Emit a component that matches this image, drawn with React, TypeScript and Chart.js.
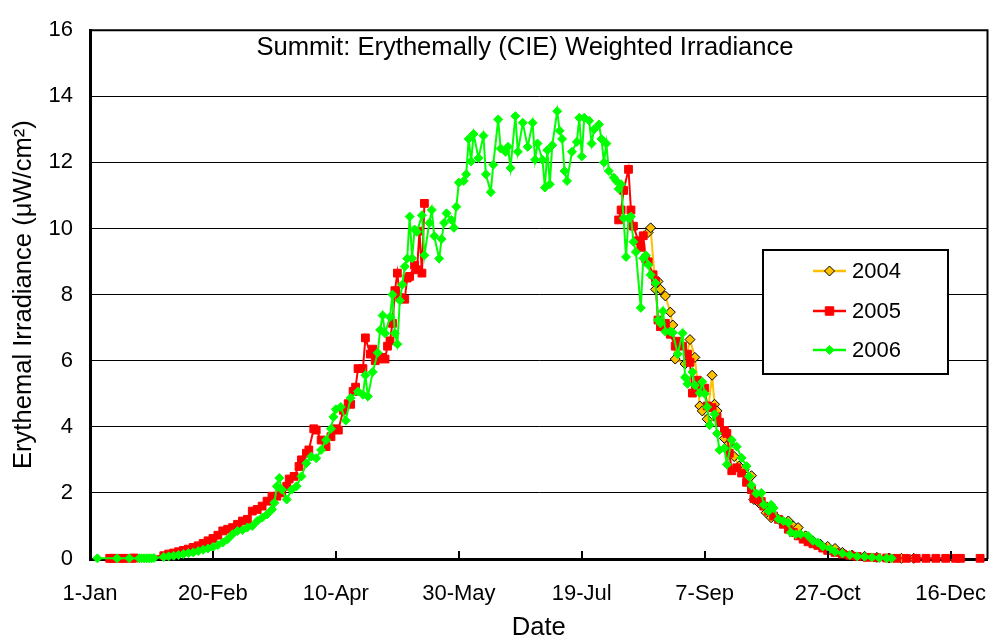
import React, { useEffect, useRef } from 'react';
import { Chart, registerables } from 'chart.js';

Chart.register(...registerables);

const FONT = '"Liberation Sans", Arial, Helvetica, sans-serif';

const chartTitle = 'Summit: Erythemally (CIE) Weighted Irradiance';
const xAxisTitle = 'Date';
const yAxisTitle = 'Erythemal Irradiance (μW/cm²)';

const tickDays = [0, 50, 100, 150, 200, 250, 300, 350];
const tickLabels = ['1-Jan', '20-Feb', '10-Apr', '30-May', '19-Jul', '7-Sep', '27-Oct', '16-Dec'];
const yTickValues = [0, 2, 4, 6, 8, 10, 12, 14, 16];

const seriesNames = ['2004', '2005', '2006'];

// 2006 (green)
const days2006 = [
  3, 11, 16, 20, 21, 22, 23, 24, 25, 26,
  30, 32, 34, 36, 38, 40, 42, 44, 46, 48,
  50, 52, 54, 56, 58, 60, 62, 64, 66, 68,
  70, 72, 74, 75, 76, 77, 78, 80, 82, 84,
  86, 88, 90, 92, 94, 96, 98, 99, 100, 102,
  104, 106, 109, 111, 112, 113, 115, 117, 118, 119,
  120, 122, 123, 124, 125, 126, 127, 128, 129, 130,
  131, 132, 133, 135, 136, 138, 139, 140, 142, 143,
  144, 145, 147, 148, 149, 150, 152, 153, 154, 155,
  156, 158, 160, 161, 163, 164, 166, 167, 169, 170,
  171, 173, 174, 176, 178, 180, 181, 182, 184, 185,
  186, 187, 188, 190, 191, 192, 193, 194, 196, 198,
  199, 200, 201, 203, 204, 205, 207, 208, 209, 210,
  211, 213, 214, 215, 216, 217, 218, 219, 220, 221,
  222, 224, 225, 226, 227, 228, 230, 231, 232, 233,
  234, 236, 237, 239, 241, 242, 243, 245, 246, 248,
  249, 250, 251, 252, 254, 255, 256, 258, 259, 261,
  263, 265, 267, 268, 269, 271, 273, 274, 276, 277,
  278, 280, 282, 284, 285, 287, 289, 292, 294, 296,
  298, 301, 303, 306, 309, 312, 315, 318, 321, 324,
  326,
];
const vals2006 = [
  0.02, 0.02, 0.02, 0.02, 0.02, 0.02, 0.02, 0.02, 0.02, 0.03,
  0.06, 0.08, 0.1, 0.12, 0.15, 0.18, 0.2, 0.24, 0.28, 0.32,
  0.36, 0.42, 0.5, 0.6, 0.75, 0.85, 0.88, 0.95, 1.0, 1.15,
  1.25, 1.35, 1.5, 1.7, 2.2, 2.45, 2.1, 1.8, 2.1, 2.2,
  2.5, 2.9, 3.1, 3.05, 3.3, 3.6, 3.94, 4.3, 4.53, 4.6,
  4.19, 4.87, 5.07, 4.97, 5.56, 4.92, 5.66, 6.24, 6.93, 7.37,
  6.83, 7.32, 8.0, 6.83, 6.5, 7.82, 8.3, 8.85, 9.09, 10.36,
  9.1, 9.97, 9.9, 10.4, 9.19, 10.17, 10.56, 9.77, 9.09, 9.68,
  10.17, 10.46, 10.26, 10.02, 10.66, 11.39, 11.44, 11.64, 12.71, 12.03,
  12.86, 12.13, 12.81, 11.64, 11.1, 11.93, 13.3, 12.42, 12.32, 12.47,
  11.83, 13.4, 12.32, 13.2, 12.47, 13.2, 12.08, 12.57, 12.08, 11.24,
  12.37, 11.34, 12.52, 13.55, 12.96, 12.71, 11.74, 11.44, 12.32, 12.62,
  13.35, 12.18, 13.35, 13.26, 12.57, 13.0, 13.15, 12.71, 12.0, 12.57,
  11.74, 11.54, 11.44, 11.2, 11.34, 10.31, 9.14, 10.31, 10.36, 9.6,
  9.29, 7.6, 9.1, 9.19, 8.9, 8.6, 8.35, 7.23, 7.13, 7.5,
  6.88, 6.88, 6.85, 6.2, 6.83, 5.5, 5.3, 5.66, 5.26, 5.02,
  5.36, 5.0, 4.6, 4.05, 4.38, 3.8, 3.3, 3.35, 2.86, 3.6,
  3.4, 3.06, 2.81, 2.5, 2.23, 1.98, 2.0, 1.64, 1.45, 1.64,
  1.54, 1.2, 1.15, 1.1, 0.8, 0.75, 0.75, 0.7, 0.55, 0.5,
  0.38, 0.3, 0.22, 0.17, 0.12, 0.08, 0.07, 0.05, 0.03, 0.02,
  0.02,
];

// 2005 (red) - null marks a break in the line
const days2005 = [
  8, 9, 10, 13, 14, 17, 18, 30, 32, 34,
  36, 38, 40, 42, 44, 46, 48, 50, 52, 54,
  56, 58, 60, 62, 64, 66, 68, 70, 72, 74,
  76, 78, 80, 81, 83, 85, 86, 88, 89, 91,
  92, 94, 96, 98, 100, 101, 103, 105, 106, 107,
  108, 109, 111, 112, 114, 115, 116, 117, 119, 120,
  121, 122, 123, 124, 125, 126, 128, 129, 130, 132,
  133, 134, 135, 136, 176, 215, 216, 217, 219, 220,
  221, 223, 224, 225, 226, 227, 229, 230, 231, 232,
  234, 236, 238, 239, 241, 243, 244, 245, 247, 248,
  250, 251, 253, 255, 256, 258, 259, 260, 261, 263,
  265, 267, 269, 270, 272, 273, 274, 276, 278, 280,
  282, 284, 286, 288, 290, 292, 294, 296, 298, 300,
  303, 306, 309, 312, 316, 320, 324, 328, 332, 336,
  340, 344, 348, 352, 354, 358, 362,
];
const vals2005 = [
  0.02, 0.02, 0.02, 0.02, 0.02, 0.02, 0.03, 0.1, 0.15, 0.18,
  0.22, 0.26, 0.3, 0.35, 0.4, 0.47, 0.55, 0.62, 0.72, 0.85,
  0.9, 0.95, 1.05, 1.15, 1.2, 1.45, 1.5, 1.6, 1.75, 1.9,
  1.9, 2.0, 2.2, 2.42, 2.5, 2.8, 3.0, 3.2, 3.3, 3.94,
  3.9, 3.6, 3.4, 3.7, 3.94, 3.9, 4.5, 4.7, 4.68, 5.07,
  5.2, 5.76, 5.76, 6.69, 6.2, 6.35, 6.0, 6.05, 6.1, 6.05,
  6.44, 6.6, 7.13, 8.12, 8.65, 7.91, 7.86, 8.5, 8.55, 8.89,
  8.75, 9.92, 8.65, 10.76, null, 10.26, 10.56, 11.15, 11.79, 10.56,
  10.07, 9.63, 9.43, 9.78, 9.09, 8.99, 8.6, 8.4, 7.23, 7.03,
  7.13, 6.8, 6.44, 6.59, 6.44, 6.2, 5.95, 5.02, 5.41, 5.2,
  5.17, 4.63, 4.58, 4.3, 4.14, 3.89, 3.8, 3.2, 2.67, 2.76,
  2.6, 2.32, 2.1, 1.83, 1.8, 1.74, 1.6, 1.45, 1.3, 1.2,
  1.05, 0.9, 0.8, 0.7, 0.6, 0.52, 0.46, 0.41, 0.33, 0.26,
  0.2, 0.15, 0.11, 0.08, 0.05, 0.04, 0.03, 0.02, 0.02, 0.02,
  0.02, 0.02, 0.02, 0.02, 0.02, null, 0.02,
];

// 2004 (gold)
const days2004 = [
  227, 228, 230, 231, 232, 234, 236, 237, 238, 242,
  244, 246, 248, 249, 251, 253, 254, 255, 258, 260,
  262, 264, 266, 269, 270, 272, 275, 277, 280, 282,
  284, 286, 288, 291, 294, 297, 300, 303, 306, 310,
  315, 320, 325, 330, 335,
];
const vals2004 = [
  9.88, 10.02, 8.16, 8.4, 8.16, 7.96, 7.47, 7.08, 6.05, 5.9,
  6.64, 6.1, 4.63, 4.48, 4.23, 5.56, 4.68, 4.48, 3.65, 3.5,
  3.1, 2.81, 2.7, 2.52, 1.8, 1.7, 1.4, 1.25, 1.2, 1.1,
  1.15, 1.0, 0.95, 0.7, 0.55, 0.45, 0.38, 0.32, 0.2, 0.12,
  0.08, 0.05, 0.03, 0.02, 0.02,
];

const GREEN = '#00FF00';
const RED = '#FF0000';
const GOLD = '#FFC000';

const TICK_SIZE = 22;
const TITLE_SIZE = 25.6;

function toPoints(days: number[], vals: (number | null)[]) {
  return days.map((d, i) => ({ x: d, y: vals[i] }));
}

function drawMarker(ctx: CanvasRenderingContext2D, style: string, x: number, y: number, r: number, fill: string, stroke: string) {
  ctx.beginPath();
  if (style === 'rect') {
    const s = r * Math.SQRT1_2;
    ctx.rect(x - s, y - s, 2 * s, 2 * s);
  } else {
    ctx.moveTo(x, y - r);
    ctx.lineTo(x + r, y);
    ctx.lineTo(x, y + r);
    ctx.lineTo(x - r, y);
    ctx.closePath();
  }
  ctx.fillStyle = fill;
  ctx.fill();
  ctx.lineWidth = 1;
  ctx.strokeStyle = stroke;
  ctx.stroke();
}

const decorPlugin = {
  id: 'decor',
  afterDraw(chart: any) {
    const { ctx, chartArea } = chart;
    const xs = chart.scales.x;
    ctx.save();
    // frame (top and right)
    ctx.strokeStyle = '#000';
    ctx.lineWidth = 2;
    ctx.beginPath();
    ctx.moveTo(chartArea.left, chartArea.top);
    ctx.lineTo(chartArea.right, chartArea.top);
    ctx.lineTo(chartArea.right, chartArea.bottom);
    ctx.stroke();
    // inside tick marks on x axis
    ctx.lineWidth = 2;
    tickDays.forEach((d) => {
      const px = Math.round(xs.getPixelForValue(d));
      ctx.beginPath();
      ctx.moveTo(px, chartArea.bottom);
      ctx.lineTo(px, chartArea.bottom - 8);
      ctx.stroke();
    });
    // title inside plot
    ctx.fillStyle = '#000';
    ctx.font = `${TITLE_SIZE}px ${FONT}`;
    ctx.textAlign = 'center';
    ctx.textBaseline = 'middle';
    ctx.fillText(chartTitle, 525, 48);
    // legend
    const bx = 763, by = 250, bw = 185, bh = 124;
    ctx.fillStyle = '#fff';
    ctx.fillRect(bx, by, bw, bh);
    ctx.lineWidth = 2;
    ctx.strokeStyle = '#000';
    ctx.strokeRect(bx, by, bw, bh);
    const items = [
      { name: seriesNames[0], color: GOLD, fill: GOLD, stroke: '#000', style: 'rectRot', r: 5, y: 271 },
      { name: seriesNames[1], color: RED, fill: RED, stroke: RED, style: 'rect', r: 6, y: 311 },
      { name: seriesNames[2], color: GREEN, fill: GREEN, stroke: GREEN, style: 'rectRot', r: 4.5, y: 350 },
    ];
    items.forEach((it) => {
      ctx.strokeStyle = it.color;
      ctx.lineWidth = 2.5;
      ctx.beginPath();
      ctx.moveTo(813, it.y);
      ctx.lineTo(846, it.y);
      ctx.stroke();
      drawMarker(ctx, it.style, 829.5, it.y, it.r, it.fill, it.stroke);
      ctx.fillStyle = '#000';
      ctx.font = `${TICK_SIZE}px ${FONT}`;
      ctx.textAlign = 'left';
      ctx.textBaseline = 'middle';
      ctx.fillText(it.name, 852, it.y + 1);
    });
    ctx.restore();
  },
};

export default function App() {
  const canvasRef = useRef<HTMLCanvasElement | null>(null);

  useEffect(() => {
    const canvas = canvasRef.current;
    if (!canvas) return;
    const chart = new Chart(canvas, {
      type: 'line',
      data: {
        datasets: [
          {
            label: seriesNames[2],
            data: toPoints(days2006, vals2006),
            borderColor: GREEN,
            backgroundColor: GREEN,
            pointBackgroundColor: GREEN,
            pointBorderColor: GREEN,
            pointStyle: 'rectRot',
            pointRadius: 4.5,
            pointBorderWidth: 1,
            borderWidth: 2,
            tension: 0,
            order: 1,
            clip: false,
            spanGaps: false,
          },
          {
            label: seriesNames[1],
            data: toPoints(days2005, vals2005),
            borderColor: RED,
            backgroundColor: RED,
            pointBackgroundColor: RED,
            pointBorderColor: RED,
            pointStyle: 'rect',
            pointRadius: 5.5,
            pointBorderWidth: 1,
            borderWidth: 2,
            tension: 0,
            order: 2,
            clip: false,
            spanGaps: false,
          },
          {
            label: seriesNames[0],
            data: toPoints(days2004, vals2004),
            borderColor: GOLD,
            backgroundColor: GOLD,
            pointBackgroundColor: GOLD,
            pointBorderColor: '#000',
            pointStyle: 'rectRot',
            pointRadius: 5,
            pointBorderWidth: 1,
            borderWidth: 2,
            tension: 0,
            order: 3,
            clip: false,
            spanGaps: false,
          },
        ] as any,
      },
      options: {
        animation: false,
        responsive: false,
        maintainAspectRatio: false,
        devicePixelRatio: 1,
        layout: { padding: { top: 15, right: 5, left: 0, bottom: 0 } },
        plugins: {
          legend: { display: false },
          tooltip: { enabled: false },
        },
        scales: {
          x: {
            type: 'linear',
            min: 0,
            max: 365,
            afterBuildTicks: (s: any) => {
              s.ticks = tickDays.map((v) => ({ value: v }));
            },
            afterFit: (s: any) => {
              s.height = 84;
              s.paddingLeft = 0;
              s.paddingRight = 0;
            },
            grid: { display: false, drawTicks: false },
            border: { display: true, color: '#000', width: 3 },
            ticks: {
              autoSkip: false,
              maxRotation: 0,
              minRotation: 0,
              padding: 22,
              color: '#000',
              font: { family: FONT, size: TICK_SIZE },
              callback: (_v: any, i: number) => tickLabels[i],
            },
            title: {
              display: true,
              text: xAxisTitle,
              color: '#000',
              font: { family: FONT, size: TITLE_SIZE },
              padding: { top: 0, bottom: 0 },
            },
          },
          y: {
            type: 'linear',
            min: 0,
            max: 16,
            afterBuildTicks: (s: any) => {
              s.ticks = yTickValues.map((v) => ({ value: v }));
            },
            afterFit: (s: any) => {
              s.width = 90;
            },
            grid: { color: '#000', lineWidth: 1, drawTicks: false },
            border: { display: true, color: '#000', width: 3 },
            ticks: {
              padding: 17,
              color: '#000',
              font: { family: FONT, size: TICK_SIZE },
            },
            title: {
              display: true,
              text: yAxisTitle,
              color: '#000',
              font: { family: FONT, size: TITLE_SIZE },
              padding: { top: 9, bottom: 0 },
            },
          },
        },
      } as any,
      plugins: [decorPlugin],
    });
    return () => chart.destroy();
  }, []);

  return (
    <div style={{ position: 'fixed', left: 0, top: 0, width: 994, height: 643, background: '#fff' }}>
      <canvas ref={canvasRef} width={994} height={643} style={{ width: 994, height: 643, display: 'block' }} />
    </div>
  );
}
